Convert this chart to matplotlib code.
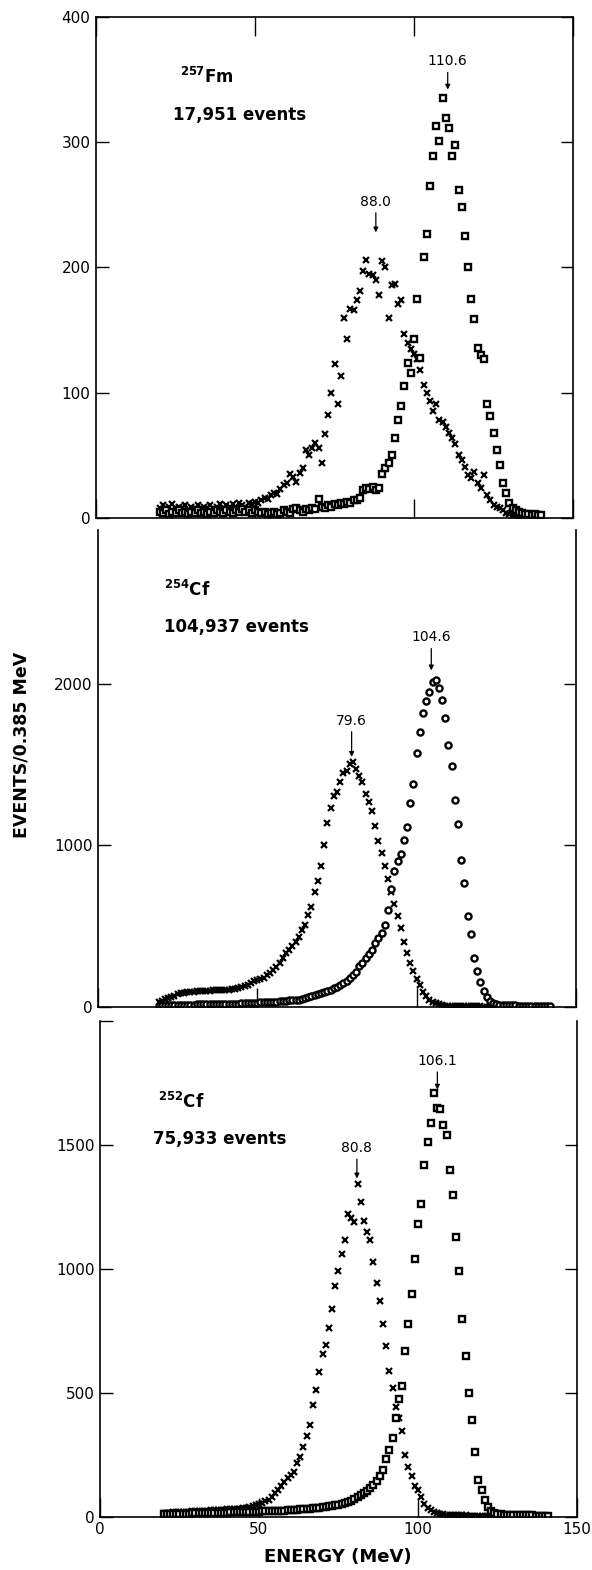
import numpy as np
import matplotlib.pyplot as plt
from matplotlib.ticker import FixedLocator

plt.rcParams['font.family'] = ['DejaVu Sans']
plt.rcParams['mathtext.fontset'] = 'dejavusans'

# Fragment energy spectra, counts per 0.385 MeV.
# "light" = x markers (light fragment), "heavy" = square/circle markers.

# 257Fm
fm_light_e = np.arange(20, 134)
fm_light = [8, 10, 6, 9, 11, 7, 9, 8, 10, 6,
            9, 8, 10, 7, 9, 8, 10, 7, 9, 11,
            8, 10, 9, 11, 8, 12, 10, 9, 12, 11,
            13, 12, 14, 16, 15, 18, 20, 19, 23, 26,
            28, 35, 33, 29, 36, 40, 54, 50, 56, 60,
            56, 44, 67, 82, 100, 123, 91, 113, 160, 143,
            167, 166, 174, 181, 197, 206, 195, 194, 190, 178,
            205, 200, 160, 186, 187, 171, 174, 147, 140, 135,
            131, 127, 118, 106, 100, 93, 85, 91, 78, 77,
            73, 68, 64, 59, 50, 46, 41, 34, 32, 37,
            28, 24, 34, 18, 14, 10, 9, 8, 6, 4,
            3, 2, 2, 1]
fm_heavy_e = np.arange(20, 141)
fm_heavy = [5, 4, 6, 3, 5, 4, 6, 4, 5, 3,
            5, 4, 6, 4, 5, 3, 5, 4, 6, 5,
            4, 6, 5, 4, 6, 5, 7, 5, 6, 4,
            6, 5, 4, 5, 3, 4, 5, 3, 4, 6,
            5, 4, 7, 8, 6, 5, 7, 6, 8, 7,
            15, 9, 8, 10, 9, 11, 10, 12, 11, 13,
            12, 14, 14, 16, 22, 24, 23, 25, 22, 24,
            35, 40, 44, 50, 64, 78, 89, 105, 124, 116,
            143, 175, 128, 208, 227, 265, 289, 313, 301, 335,
            319, 311, 289, 298, 262, 248, 225, 200, 175, 159,
            136, 130, 127, 91, 81, 68, 54, 42, 28, 20,
            12, 8, 6, 5, 4, 3, 3, 2, 3, 2, 2]

# 254Cf
cf254_light_e = np.arange(19, 141)
cf254_light = [30, 40, 48, 55, 62, 70, 78, 84, 88, 90,
               92, 94, 96, 97, 99, 100, 101, 103, 104, 105,
               106, 107, 108, 110, 114, 120, 126, 132, 138, 148,
               158, 165, 172, 180, 195, 210, 228, 248, 275, 305,
               335, 355, 375, 405, 436, 475, 510, 570, 620, 710,
               780, 870, 1000, 1140, 1230, 1305, 1330, 1390, 1445, 1460,
               1505, 1515, 1475, 1430, 1390, 1320, 1270, 1210, 1120, 1025,
               950, 870, 790, 710, 640, 565, 490, 405, 333, 275,
               225, 175, 135, 95, 65, 45, 30, 22, 16, 11,
               8, 7, 6, 6, 5, 5, 5, 4, 4, 4,
               4, 4, 3, 3, 3, 3, 3, 3, 3, 3,
               3, 3, 2, 2, 2, 2, 2, 2, 2, 2, 2, 2]
cf254_heavy_e = np.arange(19, 143)
cf254_heavy = [8, 10, 11, 12, 13, 13, 14, 14, 14, 15,
               15, 15, 16, 16, 16, 17, 17, 17, 18, 18,
               18, 19, 19, 20, 20, 21, 22, 23, 24, 25,
               26, 27, 28, 29, 30, 31, 33, 34, 36, 38,
               40, 41, 42, 44, 45, 50, 55, 60, 66, 76,
               80, 85, 90, 96, 105, 117, 125, 135, 148, 162,
               179, 195, 215, 251, 275, 302, 330, 354, 395, 425,
               460, 505, 600, 730, 840, 900, 945, 1030, 1115, 1260,
               1380, 1570, 1700, 1820, 1890, 1950, 2010, 2020, 1975, 1900,
               1790, 1620, 1490, 1280, 1130, 910, 770, 560, 450, 300,
               225, 155, 100, 60, 35, 24, 18, 15, 13, 12,
               11, 10, 10, 9, 9, 8, 8, 8, 7, 7, 7, 6, 6, 5]

# 252Cf
cf252_light_e = np.arange(20, 141)
cf252_light = [15, 16, 17, 18, 18, 19, 20, 20, 21, 22,
               22, 23, 24, 24, 25, 26, 27, 28, 28, 29,
               30, 31, 32, 33, 34, 36, 37, 40, 44, 48,
               52, 56, 64, 70, 82, 95, 108, 125, 142, 155,
               168, 183, 219, 240, 280, 325, 370, 450, 510, 584,
               657, 695, 760, 840, 930, 990, 1060, 1117, 1220, 1205,
               1190, 1344, 1270, 1195, 1150, 1117, 1030, 945, 870, 780,
               690, 590, 520, 445, 400, 345, 250, 200, 165, 125,
               108, 80, 52, 36, 27, 19, 15, 12, 10, 9,
               8, 7, 7, 6, 6, 6, 5, 5, 5, 5,
               5, 5, 4, 4, 4, 4, 4, 4, 4, 4,
               3, 3, 3, 3, 3, 3, 3, 3, 3, 3, 3]
cf252_heavy_e = np.arange(20, 142)
cf252_heavy = [10, 11, 11, 12, 12, 12, 13, 13, 13, 14,
               14, 14, 15, 15, 15, 16, 16, 16, 17, 17,
               17, 18, 18, 18, 19, 19, 20, 20, 20, 21,
               21, 22, 22, 22, 23, 23, 24, 24, 25, 26,
               27, 28, 29, 30, 31, 32, 34, 35, 37, 38,
               40, 42, 44, 46, 48, 50, 53, 56, 60, 65,
               72, 80, 88, 95, 105, 118, 130, 145, 165, 190,
               235, 270, 320, 400, 475, 530, 670, 780, 900, 1040,
               1180, 1260, 1420, 1510, 1590, 1710, 1650, 1645, 1580, 1540,
               1400, 1300, 1130, 990, 800, 650, 500, 390, 260, 150,
               110, 70, 40, 25, 17, 12, 10, 9, 8, 8,
               7, 7, 7, 6, 6, 6, 6, 5, 5, 5, 5, 5]

isotope_labels = [r'$^{\mathbf{257}}$Fm', r'$^{\mathbf{254}}$Cf', r'$^{\mathbf{252}}$Cf']
event_labels = ['17,951 events', '104,937 events', '75,933 events']
peak_labels = [[88.0, 110.6], [79.6, 104.6], [80.8, 106.1]]
y_max = [400, 2950, 2000]
y_ticks = [[0, 100, 200, 300, 400], [0, 1000, 2000], [0, 500, 1000, 1500]]
x_ticks = [0, 50, 100, 150]

fig = plt.figure(figsize=(5.92, 15.70), dpi=100)

# axes rectangles follow the (slightly skewed) scan
ax_top = fig.add_axes([0.1622, 0.6701, 0.8057, 0.3191])
ax_mid = fig.add_axes([0.1655, 0.3586, 0.8074, 0.3038])
ax_bot = fig.add_axes([0.1689, 0.0338, 0.8057, 0.3159])
axes = [ax_top, ax_mid, ax_bot]

series = [
    (fm_light_e, fm_light, fm_heavy_e, fm_heavy, 's'),
    (cf254_light_e, cf254_light, cf254_heavy_e, cf254_heavy, 'o'),
    (cf252_light_e, cf252_light, cf252_heavy_e, cf252_heavy, 's'),
]

# text positions in data units: (isotope x, isotope y, events x, events y)
label_pos = [(26.4, 347, 24.2, 318), (20.7, 2545, 20.7, 2319), (18.3, 1650, 16.7, 1504)]
# peak annotations: (text bottom, arrow head) for light and heavy peaks
peak_pos = [[(247, 228), (359, 342)], [(1728, 1547), (2243, 2082)], [(1460, 1365), (1811, 1723)]]

for i, ax in enumerate(axes):
    le, lv, he, hv, hmark = series[i]
    ax.plot(le, lv, linestyle='none', marker='x', markersize=4.6, markeredgewidth=1.6,
            color='black')
    ax.plot(he, hv, linestyle='none', marker=hmark, markersize=4.4, markeredgewidth=1.7,
            markerfacecolor='white', markeredgecolor='black')

    ax.set_xlim(0, 150)
    ax.set_ylim(0, y_max[i])
    ax.set_xticks(x_ticks)
    ax.set_yticks(y_ticks[i])
    ax.tick_params(axis='x', direction='in', length=14, width=1, top=(i == 0),
                   labelbottom=(i == 2), labelsize=11, pad=4)
    ax.tick_params(axis='y', direction='in', length=9, width=1, left=True, right=True,
                   labelsize=11, pad=4)
    for side in ['left', 'right', 'bottom', 'top']:
        ax.spines[side].set_linewidth(1.2)
    if i > 0:
        ax.spines['top'].set_visible(False)

    ix, iy, ex, ey = label_pos[i]
    ax.text(ix, iy, isotope_labels[i], fontsize=12, fontweight='bold', va='baseline')
    ax.text(ex, ey, event_labels[i], fontsize=12, fontweight='bold', va='baseline')

    for e, (ytext, yhead) in zip(peak_labels[i], peak_pos[i]):
        ax.annotate(f'{e:.1f}', xy=(e, yhead), xytext=(e, ytext), ha='center', va='bottom',
                    fontsize=10,
                    arrowprops=dict(arrowstyle='-|>', color='black', lw=0.9,
                                    mutation_scale=7, shrinkA=1, shrinkB=0))

# small unlabelled tick at the top of the bottom frame
ax_bot.yaxis.set_minor_locator(FixedLocator([2000]))
ax_bot.tick_params(axis='y', which='minor', direction='in', length=9, width=1,
                   left=True, right=False)

fig.text(0.036, 0.5255, 'EVENTS/0.385 MeV', rotation=90, ha='center', va='center',
         fontsize=12.5, fontweight='bold')
fig.text(0.571, 0.0083, 'ENERGY (MeV)', ha='center', va='center',
         fontsize=13, fontweight='bold')

fig.savefig('out.png', dpi=100)
plt.close(fig)
